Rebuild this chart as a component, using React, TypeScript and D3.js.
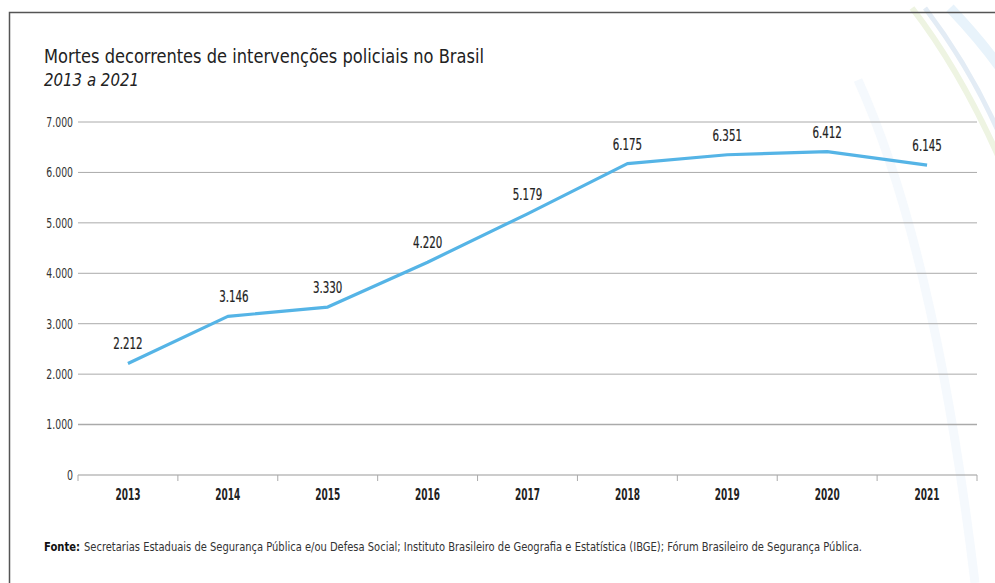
import React from "react";
import * as d3 from "d3";

const years = ["2013", "2014", "2015", "2016", "2017", "2018", "2019", "2020", "2021"];
const deaths = [2212, 3146, 3330, 4220, 5179, 6175, 6351, 6412, 6145];
const yTicks = [0, 1000, 2000, 3000, 4000, 5000, 6000, 7000];
const title = "Mortes decorrentes de intervenções policiais no Brasil";
const subtitle = "2013 a 2021";
const sourceLabel = "Fonte:";
const sourceText =
  "Secretarias Estaduais de Segurança Pública e/ou Defesa Social; Instituto Brasileiro de Geografia e Estatística (IBGE); Fórum Brasileiro de Segurança Pública.";

const W = 995;
const H = 583;
const FONT = "'DejaVu Sans Condensed', 'DejaVu Sans', sans-serif";

const fmt = (v: number) => d3.format(",")(v).replace(/,/g, ".");
// approximate width of condensed numeric strings in the reference
const numWidth = (s: string, per: number) =>
  s.split("").reduce((a, c) => a + (c === "." ? per * 0.45 : per), 0);

export default function App() {
  const x = d3.scaleBand<string>().domain(years).range([78, 977]).padding(0);
  const y = d3.scaleLinear().domain([0, 7000]).range([475, 122]);
  const cx = (yr: string) => (x(yr) as number) + x.bandwidth() / 2;

  const line = d3
    .line<number>()
    .x((_, i) => cx(years[i]))
    .y((d) => y(d));

  const boundaries = years.map((yr) => x(yr) as number).concat([977]);

  return (
    <svg
      width={W}
      height={H}
      viewBox={`0 0 ${W} ${H}`}
      style={{ position: "absolute", left: 0, top: 0, background: "#fff" }}
    >
      <rect x={0} y={0} width={W} height={H} fill="#fff" />
      {/* decorative faint swooshes */}
      <g fill="none" strokeLinecap="butt">
        <path d="M 912 8 Q 960 70 1000 160" stroke="#eef4e2" strokeWidth={6} />
        <path d="M 925 8 Q 972 70 1002 140" stroke="#e3ecf5" strokeWidth={5} />
        <path d="M 950 8 Q 985 45 1005 75" stroke="#e8f3fb" strokeWidth={10} />
        <path d="M 858 80 Q 935 250 975 583" stroke="#f5f9fd" strokeWidth={9} />
      </g>
      {/* frame */}
      <path d="M 9.5 583 L 9.5 12.5 L 995 12.5" fill="none" stroke="#555" strokeWidth={1.5} />

      {/* title */}
      <text
        x={44}
        y={63}
        fontFamily={FONT}
        fontSize={19.5}
        fill="#222"
        textLength={440}
        lengthAdjust="spacingAndGlyphs"
      >
        {title}
      </text>
      <text
        x={44}
        y={86}
        fontFamily={FONT}
        fontSize={18.5}
        fontStyle="italic"
        fill="#222"
        textLength={95}
        lengthAdjust="spacingAndGlyphs"
      >
        {subtitle}
      </text>

      {/* gridlines */}
      {yTicks.map((t) => {
        const s = fmt(t);
        return (
          <g key={t}>
            <line
              x1={78}
              x2={977}
              y1={y(t)}
              y2={y(t)}
              stroke={t === 0 ? "#999" : "#aaa"}
              strokeWidth={t === 1000 ? 1.4 : 1}
            />
            <text
              x={73}
              y={y(t)}
              dy="0.35em"
              textAnchor="end"
              fontFamily={FONT}
              fontSize={14}
              fill="#333"
              textLength={numWidth(s, 6)}
              lengthAdjust="spacingAndGlyphs"
            >
              {s}
            </text>
          </g>
        );
      })}

      {/* x ticks */}
      {boundaries.map((b, i) => (
        <line key={i} x1={b} x2={b} y1={475} y2={481} stroke="#aaa" strokeWidth={1} />
      ))}
      {years.map((yr) => (
        <text
          key={yr}
          x={cx(yr)}
          y={500}
          textAnchor="middle"
          fontFamily={FONT}
          fontSize={15.5}
          fontWeight="bold"
          fill="#222"
          textLength={25}
          lengthAdjust="spacingAndGlyphs"
        >
          {yr}
        </text>
      ))}

      {/* line */}
      <path
        d={line(deaths) as string}
        fill="none"
        stroke="#55b4e6"
        strokeWidth={3.2}
        strokeLinejoin="round"
      />

      {/* labels */}
      {deaths.map((v, i) => {
        const s = fmt(v);
        return (
          <text
            key={i}
            x={cx(years[i]) + (i === 1 ? 6 : 0)}
            y={y(v) - 14}
            textAnchor="middle"
            fontFamily={FONT}
            fontSize={15}
            fill="#222"
            stroke="#222"
            strokeWidth={0.2}
            textLength={numWidth(s, 6.6)}
            lengthAdjust="spacingAndGlyphs"
          >
            {s}
          </text>
        );
      })}

      {/* source */}
      <text
        x={44}
        y={551}
        fontFamily={FONT}
        fontSize={12.5}
        fontWeight="bold"
        fill="#111"
        textLength={36}
        lengthAdjust="spacingAndGlyphs"
      >
        {sourceLabel}
      </text>
      <text
        x={84}
        y={551}
        fontFamily={FONT}
        fontSize={11.5}
        fill="#333"
        textLength={778}
        lengthAdjust="spacingAndGlyphs"
      >
        {sourceText}
      </text>
    </svg>
  );
}
